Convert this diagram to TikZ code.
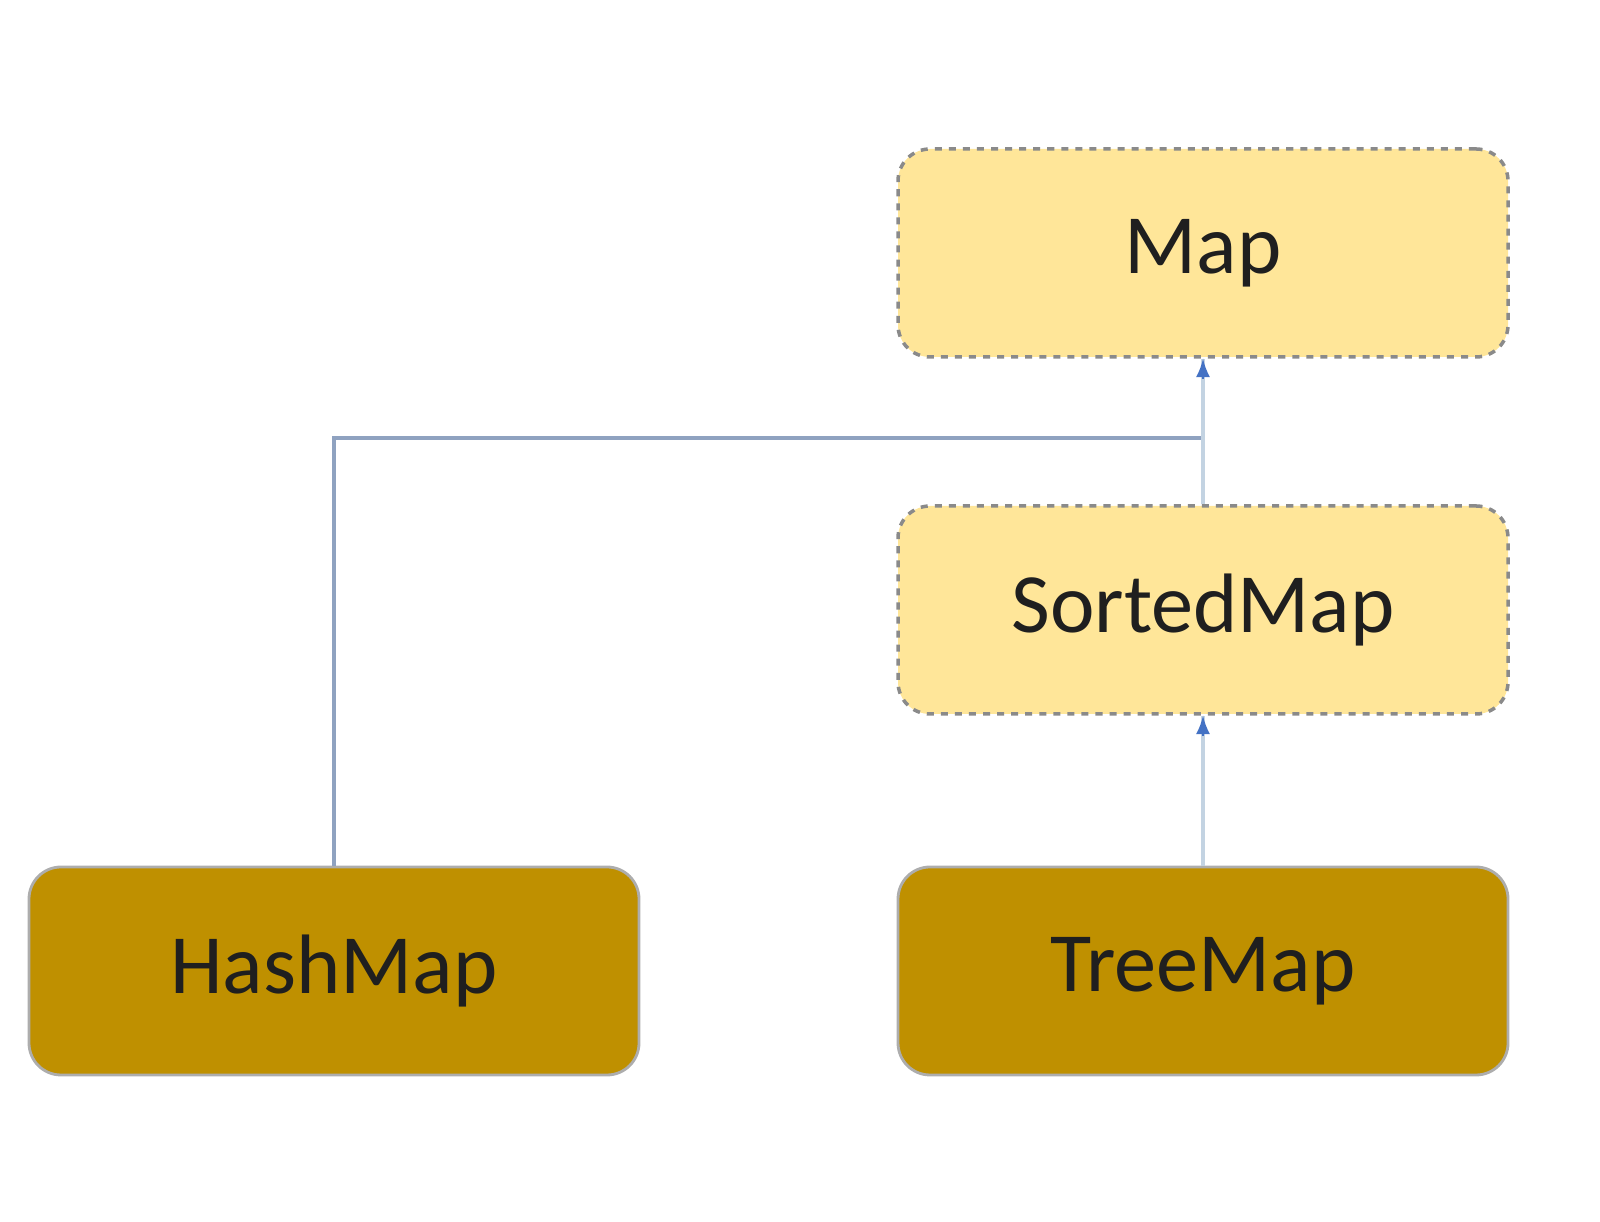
\documentclass[tikz,border=0pt]{standalone}
\usepackage{fontspec}
\setmainfont{Carlito}
\usetikzlibrary{arrows}

\definecolor{lightgold}{HTML}{FFE699}
\definecolor{darkgold}{HTML}{BF9000}
\definecolor{edgegrey}{HTML}{8A8A8A}
\definecolor{linkblue}{HTML}{4472C4}
\definecolor{linkgrey}{HTML}{8FA2C0}
\definecolor{linkpale}{HTML}{C3D3E2}

\tikzset{
  iface/.style={draw=edgegrey, dash pattern=on 2pt off 2pt, line width=1pt, fill=lightgold,
    rounded corners=0.32cm, minimum width=6.1cm, minimum height=2.08cm,
    text=black!88, font=\fontsize{24}{28}\selectfont},
  impl/.style={draw=edgegrey!70, line width=0.8pt, fill=darkgold,
    rounded corners=0.32cm, minimum width=6.1cm, minimum height=2.08cm,
    text=black!88, font=\fontsize{24}{28}\selectfont},
  link/.style={line width=1.1pt},
}

\begin{document}
\begin{tikzpicture}[>=latex]

    % === 画布 ===
    \useasboundingbox (0,0) rectangle (16,12.22);

    % === 节点 ===
    \node[iface] (map)    at (12.03, 9.69) {Map};
    \node[iface] (sorted) at (12.03, 6.12) {SortedMap};
    \node[impl]  (hash)   at (3.34, 2.51)  {HashMap};
    \node[impl]  (tree)   at (12.03, 2.51) {TreeMap};

    % === 连接点 ===
    \coordinate (joint) at (map.south |- 0,7.84);

    % === 继承关系 ===
    \draw[link, linkgrey] (hash.north) |- (joint);
    \draw[link, linkpale] (sorted.north) -- (map.south);
    \draw[link, linkpale] (tree.north) -- (sorted.south);

    % === 箭头 ===
    \draw[linkblue, line width=0.8pt, ->] ([yshift=-2mm]map.south) -- (map.south);
    \draw[linkblue, line width=0.8pt, ->] ([yshift=-2mm]sorted.south) -- (sorted.south);

\end{tikzpicture}
\end{document}
